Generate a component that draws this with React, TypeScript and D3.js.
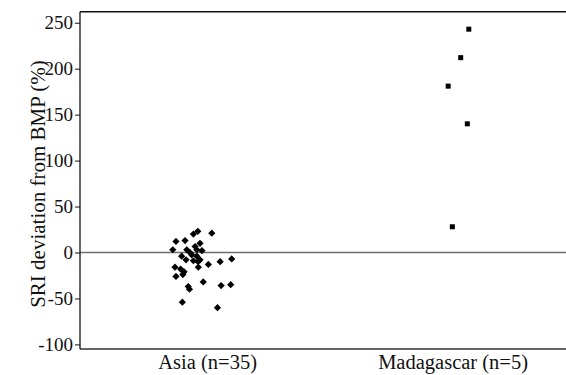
import React, { useEffect, useRef } from 'react';
import * as d3 from 'd3';

// category labels and their positions on the x axis
const categories = ['Asia (n=35)', 'Madagascar (n=5)'];
const categoryPos = [1, 2];

// Asia: jittered x (category units) and SRI deviation (%)
const asiaX = [
  0.960, 0.942, 1.017, 0.908, 0.871, 0.969, 0.949, 0.858, 0.915, 0.956,
  0.894, 0.935, 0.956, 0.969, 0.942, 0.912, 1.003, 0.962, 1.051, 1.098,
  0.867, 0.890, 0.899, 0.871, 0.982, 0.921, 0.926, 1.055, 1.094, 0.897,
  1.040, 0.928, 0.961, 0.904, 0.977,
];
const asiaY = [
  23, 20, 21, 13, 12, 10, 6.5, 3, 3, 3,
  -4, -2.5, -4, -8, -9, -8, -13, -16, -10, -7,
  -16, -18, -24, -26, -32, -37, -40, -36, -35, -54,
  -60, 0, -10, -21, 2,
];

// Madagascar
const madaX = [2.064, 2.031, 1.980, 2.058, 1.997];
const madaY = [243, 212, 181, 140, 28];

const yTicks = [-100, -50, 0, 50, 100, 150, 200, 250];

export default function App() {
  const svgRef = useRef<SVGSVGElement>(null);

  useEffect(() => {
    if (!svgRef.current) return;
    const svg = d3.select(svgRef.current);
    svg.selectAll('*').remove();

    const left = 80, right = 566, top = 11.7, bottom = 349;
    const font = 'Liberation Serif';

    const x = d3.scaleLinear().domain([0.48, 2.46]).range([left, right]);
    const y = d3.scaleLinear().domain([-105, 262]).range([bottom, top]);

    // zero reference line
    svg.append('line')
      .attr('x1', left).attr('x2', right)
      .attr('y1', y(0)).attr('y2', y(0))
      .attr('stroke', '#6e6e6e')
      .attr('stroke-width', 1.6);

    // frame: top and bottom
    svg.append('line')
      .attr('x1', left).attr('x2', right)
      .attr('y1', top).attr('y2', top)
      .attr('stroke', '#111').attr('stroke-width', 1.5);
    svg.append('line')
      .attr('x1', left).attr('x2', right)
      .attr('y1', bottom).attr('y2', bottom)
      .attr('stroke', '#333').attr('stroke-width', 1.5);

    // y axis
    const yAxis = svg.append('g')
      .attr('transform', `translate(${left},0)`)
      .call(d3.axisLeft(y).tickValues(yTicks).tickFormat(d => String(d))
        .tickSize(5).tickPadding(2).tickSizeOuter(0));
    yAxis.select('.domain').attr('stroke', '#111').attr('stroke-width', 1.3)
      .attr('d', `M0,${top}V${bottom}`);
    yAxis.selectAll('.tick line').attr('stroke', '#111');
    yAxis.selectAll('.tick text')
      .style('font-family', font)
      .style('font-size', '19px')
      .attr('fill', '#111');

    svg.append('text')
      .attr('transform', `translate(45,${(58 + 310) / 2}) rotate(-90)`)
      .attr('text-anchor', 'middle')
      .style('font-family', font)
      .style('font-size', '21px')
      .attr('fill', '#111')
      .text('SRI deviation from BMP (%)');

    // category labels
    svg.selectAll('text.cat')
      .data(categories)
      .enter()
      .append('text')
      .attr('class', 'cat')
      .attr('x', (_d, i) => x(categoryPos[i]))
      .attr('y', 369)
      .attr('text-anchor', 'middle')
      .style('font-family', font)
      .style('font-size', '20.5px')
      .attr('fill', '#111')
      .text(d => d);

    // Asia: diamonds
    const dsize = 3.6;
    svg.selectAll('path.asia')
      .data(asiaY)
      .enter()
      .append('path')
      .attr('class', 'asia')
      .attr('d', (d, i) => {
        const cx = x(asiaX[i]), cy = y(d);
        return `M${cx},${cy - dsize}L${cx + dsize},${cy}L${cx},${cy + dsize}L${cx - dsize},${cy}Z`;
      })
      .attr('fill', '#000');

    // Madagascar: squares
    const s = 5;
    svg.selectAll('rect.mada')
      .data(madaY)
      .enter()
      .append('rect')
      .attr('class', 'mada')
      .attr('x', (_d, i) => x(madaX[i]) - s / 2)
      .attr('y', d => y(d) - s / 2)
      .attr('width', s)
      .attr('height', s)
      .attr('fill', '#000');
  }, []);

  return (
    <svg
      ref={svgRef}
      width={566}
      height={375}
      style={{ position: 'absolute', left: 0, top: 0, background: '#fff' }}
    />
  );
}
